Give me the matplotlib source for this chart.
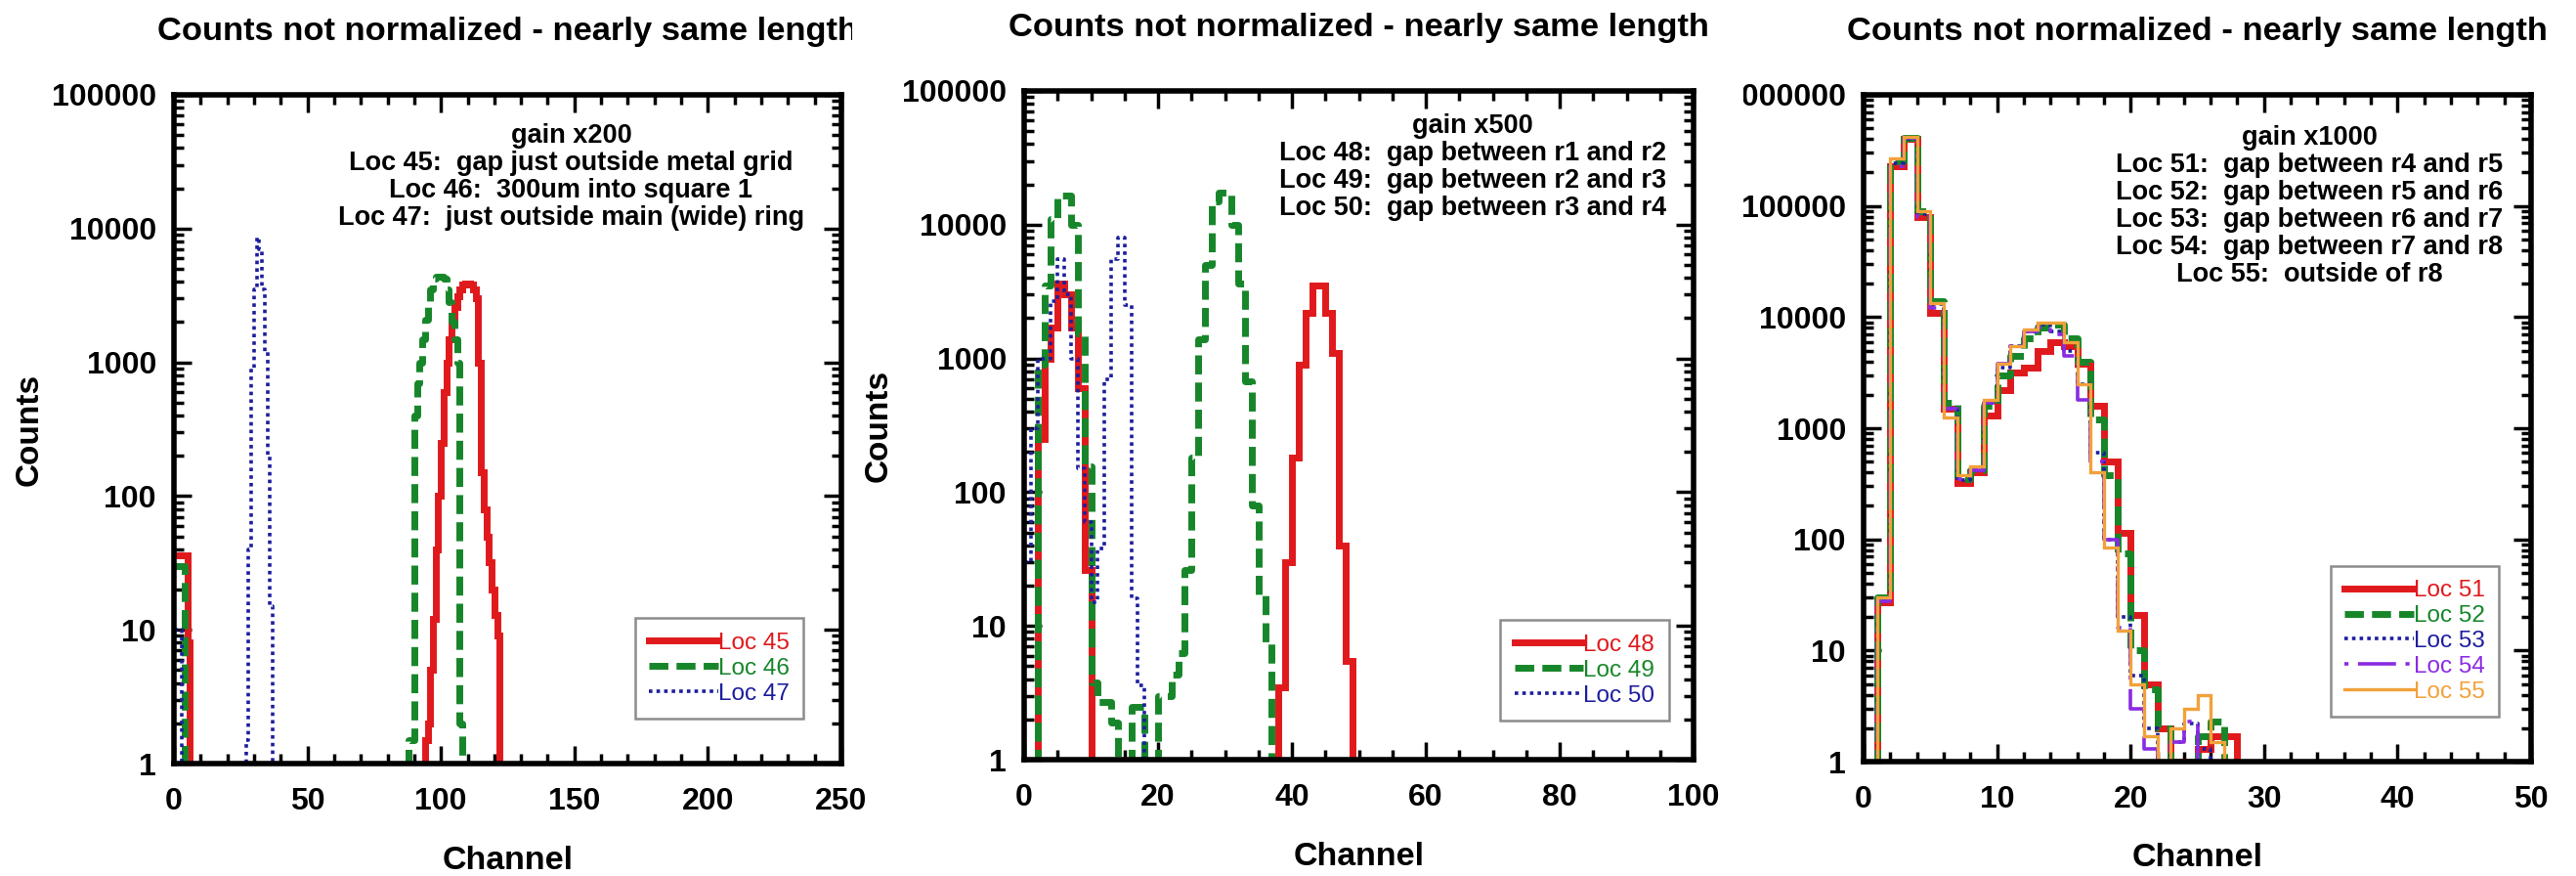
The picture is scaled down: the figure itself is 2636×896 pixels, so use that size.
import numpy as np
import matplotlib
matplotlib.use("Agg")
import matplotlib.pyplot as plt
from matplotlib.ticker import MultipleLocator, LogLocator, NullFormatter
from matplotlib.transforms import Bbox, TransformedBbox

plt.rcParams["font.family"] = ["Liberation Sans", "DejaVu Sans"]
plt.rcParams["font.weight"] = "bold"
plt.rcParams["axes.labelweight"] = "bold"
plt.rcParams["lines.scale_dashes"] = False

# ---------------- data: counts per channel (1-channel bins) ----------------
# gain x200
loc45_low = [36, 36, 36, 36, 36, 8]
loc45_peak_start = 94
loc45_peak = [1.5, 2, 5, 12, 40, 100, 250, 600, 1000, 1500, 2000, 2600, 3100, 3500,
              3800, 3900, 3900, 3800, 3500, 3000, 1000, 150, 80, 50, 32, 20, 13, 9]
loc46_low = [30, 30, 30, 30]
loc46_peak_start = 88
loc46_peak = [1.5, 1.5, 400, 700, 1000, 1500, 2100, 2800, 3500, 4200, 4400, 4400, 4400,
              4200, 3500, 2800, 2000, 1500, 1000, 2]
loc47_low = [10, 10, 10]
loc47_peak_start = 27
loc47_peak = [1.5, 40, 900, 3500, 8600, 7000, 3500, 1200, 200, 15]

# gain x500
loc48 = [0, 0, 250, 1000, 1700, 3600, 3000, 1700, 600, 26, 0, 0, 0, 0, 0, 0, 0, 0, 0, 0,
         0, 0, 0, 0, 0, 0, 0, 0, 0, 0, 0, 0, 0, 0, 0, 0, 0, 0, 3.5, 30, 180, 900, 2200,
         3500, 3500, 2200, 1100, 40, 5.5, 0]
loc49 = [0, 0, 900, 3500, 11000, 16500, 16500, 10000, 1550, 155, 3.8, 2.7, 2.7, 1.9,
         0, 0, 2.5, 2.5, 0, 0, 3, 3, 4.3, 6.3, 26, 180, 1400, 5000, 15000, 17400, 17400,
         10000, 3600, 670, 80, 17, 7.5, 0]
loc50 = [30, 300, 1000, 1000, 2700, 5500, 3000, 1000, 150, 60, 15, 38, 700, 5500, 8000,
         2500, 16, 3.6, 0]

# gain x1000
loc51 = [0, 27, 230000, 400000, 80000, 11000, 1500, 320, 400, 1300, 2200, 3200, 3500,
         5000, 6000, 5500, 3800, 1600, 500, 115, 21, 5, 2, 1, 1, 1.3, 1.7, 1.7, 0]
loc52 = [0, 30, 250000, 410000, 90000, 14000, 1700, 350, 420, 1600, 3000, 4500, 6500,
         8000, 8500, 6500, 4000, 1200, 380, 75, 10, 4.5, 2, 1, 1, 1.7, 2.3, 0]
loc53 = [0, 28, 240000, 400000, 85000, 13000, 1500, 340, 420, 1700, 3500, 5500, 7500,
         8500, 7500, 5000, 2500, 600, 100, 20, 6, 2, 1, 1.5, 2.2, 1.3, 0]
loc54 = [0, 28, 230000, 410000, 80000, 12000, 1500, 350, 420, 1700, 3800, 5500, 7500,
         8000, 7000, 4500, 1800, 500, 100, 16, 3, 1.3, 1, 1.5, 2.3, 1, 0]
loc55 = [0, 30, 270000, 420000, 89000, 13500, 1260, 380, 450, 1800, 3800, 5500, 7800,
         8900, 8900, 6000, 2500, 400, 85, 15, 5, 1.7, 1, 2, 3, 4, 1.5, 0]

title = "Counts not normalized - nearly same length"
notes = [
    "gain x200\nLoc 45:  gap just outside metal grid\nLoc 46:  300um into square 1\n"
    "Loc 47:  just outside main (wide) ring",
    "gain x500\nLoc 48:  gap between r1 and r2\nLoc 49:  gap between r2 and r3\n"
    "Loc 50:  gap between r3 and r4",
    "gain x1000\nLoc 51:  gap between r4 and r5\nLoc 52:  gap between r5 and r6\n"
    "Loc 53:  gap between r6 and r7\nLoc 54:  gap between r7 and r8\nLoc 55:  outside of r8",
]

# ---------------- styles ----------------
RED, GREEN, BLUE, PURPLE, ORANGE = "#e0191c", "#17862a", "#1d1d9e", "#8a2be2", "#f2a13a"
st_red = dict(color=RED, lw=5, ls="-")
st_green = dict(color=GREEN, lw=5, ls=(0, (14, 6)))
st_blue = dict(color=BLUE, lw=2.6, ls=(0, (2.6, 3)))
st_purple = dict(color=PURPLE, lw=2.6, ls=(0, (3, 7, 28, 7)))
st_orange = dict(color=ORANGE, lw=2.4, ls="-")

W, H = 2636, 896
fig = plt.figure(figsize=(W / 100, H / 100), dpi=100)
fig.patch.set_facecolor("white")


def add_axes(l, t, r, b):
    return fig.add_axes([l / W, 1 - b / H, (r - l) / W, (b - t) / H])


def assemble(n, pieces):
    arr = np.zeros(n)
    for start, vals in pieces:
        arr[start:start + len(vals)] = vals
    return arr


def hist(ax, counts, label, style):
    counts = np.asarray(counts, float)
    edges = np.arange(len(counts) + 1)
    y = np.append(counts, counts[-1])
    line, = ax.step(edges, y, where="post", label=label, solid_joinstyle="miter", **style)
    return line


def style_axes(ax, xmax, xmajor, xminor, ymax):
    ax.set_xlim(0, xmax)
    ax.set_yscale("log")
    ax.set_ylim(1, ymax)
    ax.xaxis.set_major_locator(MultipleLocator(xmajor))
    ax.xaxis.set_minor_locator(MultipleLocator(xminor))
    decades = [10 ** k for k in range(int(round(np.log10(ymax))) + 1)]
    ax.set_yticks(decades, [str(d) for d in decades])
    ax.yaxis.set_minor_locator(LogLocator(base=10, subs=np.arange(2, 10)))
    ax.yaxis.set_minor_formatter(NullFormatter())
    ax.tick_params(which="both", direction="in", top=True, right=True, width=2.5)
    ax.tick_params(which="major", length=13)
    ax.tick_params(which="minor", length=7)
    ax.tick_params(axis="x", labelsize=23, pad=17)
    ax.tick_params(axis="y", labelsize=23, pad=13)
    for s in ax.spines.values():
        s.set_linewidth(4)
    ax.set_xlabel("Channel", fontsize=24.5, fontweight="bold", va="center")
    ax.xaxis.set_label_coords(0.5, -0.145)
    ax.set_ylabel("Counts", fontsize=24, fontweight="bold", va="center")
    ax.yaxis.set_label_coords(-0.217, 0.5)
    ax.text(0.5, 1 + 65 / 684, title, transform=ax.transAxes, ha="center", va="center",
            fontsize=24.8, fontweight="bold")


def legend(ax, x, y):
    leg = ax.legend(loc="lower right", bbox_to_anchor=(x, y), borderaxespad=0,
                    fancybox=False, edgecolor="#8c8c8c", framealpha=1,
                    handlelength=2.9, handletextpad=0.0, labelspacing=0.16,
                    borderpad=0.6, labelcolor="linecolor",
                    prop={"size": 17.5, "weight": "normal"})
    leg.get_frame().set_linewidth(1.8)
    return leg


# ---------------- panel 1: gain x200 ----------------
ax1 = add_axes(178, 97, 861, 781)
style_axes(ax1, 250, 50, 10, 1e5)
hist(ax1, assemble(130, [(0, loc45_low), (loc45_peak_start, loc45_peak)]), "Loc 45", st_red)
hist(ax1, assemble(130, [(0, loc46_low), (loc46_peak_start, loc46_peak)]), "Loc 46", st_green)
hist(ax1, assemble(130, [(0, loc47_low), (loc47_peak_start, loc47_peak)]), "Loc 47", st_blue)
ax1.text(0.595, 0.958, notes[0], transform=ax1.transAxes, ha="center", va="top",
         fontsize=19.5, linespacing=1.1)
legend(ax1, 0.943, 0.067)

# ---------------- panel 2: gain x500 ----------------
ax2 = add_axes(1048, 93, 1733, 777)
style_axes(ax2, 100, 20, 5, 1e5)
hist(ax2, loc48, "Loc 48", st_red)
hist(ax2, loc49, "Loc 49", st_green)
hist(ax2, loc50, "Loc 50", st_blue)
ax2.text(0.67, 0.966, notes[1], transform=ax2.transAxes, ha="center", va="top",
         fontsize=19.5, linespacing=1.1)
legend(ax2, 0.9635, 0.058)

# ---------------- panel 3: gain x1000 ----------------
ax3 = add_axes(1907, 97, 2590, 779)
style_axes(ax3, 50, 10, 2, 1e6)
hist(ax3, loc51, "Loc 51", st_red)
hist(ax3, loc52, "Loc 52", st_green)
hist(ax3, loc53, "Loc 53", st_blue)
hist(ax3, loc54, "Loc 54", st_purple)
hist(ax3, loc55, "Loc 55", st_orange)
ax3.text(0.668, 0.955, notes[2], transform=ax3.transAxes, ha="center", va="top",
         fontsize=19.5, linespacing=1.1)
legend(ax3, 0.952, 0.067)

# each panel is cut at its own left/right boundary
fig.canvas.draw()


def clip_to(artist, x0, x1):
    box = TransformedBbox(Bbox.from_extents(x0 / W, 0, x1 / W, 1), fig.transFigure)
    artist.set_clip_box(box)
    artist.set_clip_on(True)


for t in ax1.texts:
    clip_to(t, 0, 872)
for t in ax3.get_yticklabels() + [ax3.yaxis.label]:
    clip_to(t, 1784, W)

fig.savefig("out.png", dpi=100, facecolor="white")
